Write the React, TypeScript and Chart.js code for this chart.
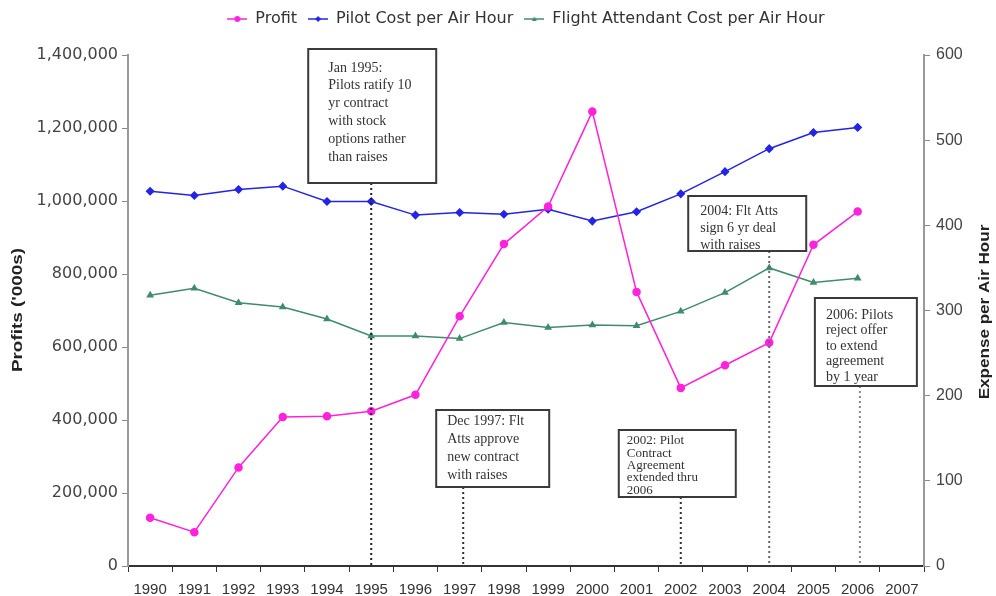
import React, { useEffect, useRef } from 'react';
import { Chart, registerables } from 'chart.js';

Chart.register(...registerables);

// Years on the category axis (2007 has no data yet)
const years = ['1990', '1991', '1992', '1993', '1994', '1995', '1996', '1997', '1998', '1999', '2000', '2001', '2002', '2003', '2004', '2005', '2006', '2007'];

// Profits in thousands of dollars (left axis)
const profit = [132000, 92500, 270000, 408000, 410000, 424000, 469000, 684000, 882000, 985000, 1245000, 751000, 488000, 550000, 612000, 880000, 971000, null];

// Cost per air hour (right axis)
const pilotCost = [440, 435, 442, 446, 428, 428, 412, 415, 413, 419, 405, 416, 437, 463, 490, 509, 515, null];
const attendantCost = [318, 326, 309, 304, 290, 270, 270, 267, 286, 280, 283, 282, 299, 321, 350, 333, 338, null];

// Axis ranges and steps
const profitTicks = [0, 1400000, 200000];
const costTicks = [0, 600, 100];

// Event call-outs: the year each one points at and its text
const noteYears = [1995, 1997.08, 2002, 2004, 2006.05];
const noteTexts = [
  ['Jan 1995:', 'Pilots ratify 10', 'yr contract', 'with stock', 'options rather', 'than raises'],
  ['Dec 1997: Flt', 'Atts approve', 'new contract', 'with raises'],
  ['2002: Pilot', 'Contract', 'Agreement', 'extended thru', '2006'],
  ['2004: Flt Atts', 'sign 6 yr deal', 'with raises'],
  ['2006: Pilots', 'reject offer', 'to extend', 'agreement', 'by 1 year'],
];

// Call-out box placement (pixels; dx is relative to the year's x position)
const noteLayout = [
  { dx: -63, top: 49, w: 128, h: 134, padX: 20, firstY: 68, lineH: 17.8, size: 14, dot: '#222' },
  { dx: -27, top: 410, w: 113, h: 77, padX: 11, firstY: 421, lineH: 18.2, size: 14, dot: '#333' },
  { dx: -62, top: 430, w: 117, h: 67, padX: 8, firstY: 441, lineH: 12.3, size: 13, dot: '#333' },
  { dx: -81, top: 196, w: 118, h: 55, padX: 12, firstY: 211, lineH: 17, size: 14, dot: '#666' },
  { dx: -45, top: 298, w: 102, h: 88, padX: 11, firstY: 315, lineH: 15.6, size: 14, dot: '#888' },
];

const seriesNames = ['Profit', 'Pilot Cost per Air Hour', 'Flight Attendant Cost per Air Hour'];
const seriesColors = ['#FF22DD', '#2424E6', '#3F8C6C'];
const seriesMarkers = ['circle', 'rectRot', 'triangle'];

const sans = "'DejaVu Sans', 'Liberation Sans', Arial, sans-serif";
const arial = "'Liberation Sans', Arial, sans-serif";

function makeSwatch(color: string, marker: string): HTMLCanvasElement {
  const c = document.createElement('canvas');
  c.width = 20;
  c.height = 8;
  const g = c.getContext('2d')!;
  g.strokeStyle = color;
  g.lineWidth = 1.5;
  g.beginPath();
  g.moveTo(0, 4);
  g.lineTo(20, 4);
  g.stroke();
  g.fillStyle = color;
  g.beginPath();
  if (marker === 'circle') {
    g.arc(10, 4, 3, 0, Math.PI * 2);
  } else if (marker === 'rectRot') {
    g.moveTo(10, 1); g.lineTo(13, 4); g.lineTo(10, 7); g.lineTo(7, 4); g.closePath();
  } else {
    g.moveTo(10, 1.5); g.lineTo(12.5, 6); g.lineTo(7.5, 6); g.closePath();
  }
  g.fill();
  return c;
}

function drawTitle(ctx: CanvasRenderingContext2D, text: string, x: number, y: number, stretch: number) {
  ctx.save();
  ctx.fillStyle = '#222';
  ctx.font = `bold 14px ${arial}`;
  ctx.textAlign = 'center';
  ctx.textBaseline = 'middle';
  ctx.translate(x, y);
  ctx.rotate(-Math.PI / 2);
  ctx.scale(stretch, 1);
  ctx.fillText(text, 0, 0);
  ctx.restore();
}

export default function App() {
  const ref = useRef<HTMLCanvasElement>(null);

  useEffect(() => {
    if (!ref.current) return;
    const swatches = seriesColors.map((c, i) => makeSwatch(c, seriesMarkers[i]));

    const legendSpacer = {
      id: 'legendSpacer',
      beforeInit(chart: any) {
        const lg = chart.legend;
        if (!lg) return;
        const orig = lg.fit;
        lg.fit = function () {
          orig.call(this);
          this.height += 18;
        };
      },
    };

    const extras = {
      id: 'extras',
      afterDatasetsDraw(chart: any) {
        const { ctx, chartArea, scales } = chart;
        const x = scales.x;
        drawTitle(ctx, "Profits ('000s)", 18, 310, 1.35);
        drawTitle(ctx, 'Expense per Air Hour', 985, 312, 1.22);

        noteYears.forEach((yr, i) => {
          const L = noteLayout[i];
          const px = x.getPixelForValue(yr - 1990);
          const left = px + L.dx;
          ctx.save();
          ctx.strokeStyle = L.dot;
          ctx.lineWidth = 2;
          ctx.setLineDash([2, 3]);
          ctx.beginPath();
          ctx.moveTo(px, L.top + L.h);
          ctx.lineTo(px, chartArea.bottom);
          ctx.stroke();
          ctx.setLineDash([]);
          ctx.fillStyle = '#fff';
          ctx.fillRect(left, L.top, L.w, L.h);
          ctx.beginPath();
          ctx.rect(left, L.top, L.w, L.h);
          ctx.clip();
          ctx.fillStyle = '#333';
          ctx.font = `${L.size}px 'Liberation Serif', 'Times New Roman', serif`;
          ctx.textAlign = 'left';
          ctx.textBaseline = 'middle';
          noteTexts[i].forEach((t, j) => {
            ctx.fillText(t, left + L.padX, L.firstY + j * L.lineH);
          });
          ctx.restore();
          ctx.save();
          ctx.strokeStyle = '#3a3a3a';
          ctx.lineWidth = 2;
          ctx.strokeRect(left, L.top, L.w, L.h);
          ctx.restore();
        });
      },
    };

    const sizeX = (s: any) => { s.height = 30; };
    const sizeLeft = (s: any) => { s.width = 128; };
    const sizeRight = (s: any) => { s.width = 72; };

    const chart = new Chart(ref.current, {
      type: 'line',
      data: {
        labels: years,
        datasets: [
          {
            label: seriesNames[0],
            data: profit,
            yAxisID: 'y',
            borderColor: seriesColors[0],
            backgroundColor: seriesColors[0],
            pointBackgroundColor: seriesColors[0],
            pointBorderColor: seriesColors[0],
            pointStyle: seriesMarkers[0],
            pointRadius: 3.5,
            borderWidth: 1.5,
            tension: 0,
          },
          {
            label: seriesNames[1],
            data: pilotCost,
            yAxisID: 'y1',
            borderColor: seriesColors[1],
            backgroundColor: seriesColors[1],
            pointBackgroundColor: seriesColors[1],
            pointBorderColor: seriesColors[1],
            pointStyle: seriesMarkers[1],
            pointRadius: 3.5,
            borderWidth: 1.5,
            tension: 0,
          },
          {
            label: seriesNames[2],
            data: attendantCost,
            yAxisID: 'y1',
            borderColor: seriesColors[2],
            backgroundColor: seriesColors[2],
            pointBackgroundColor: seriesColors[2],
            pointBorderColor: seriesColors[2],
            pointStyle: seriesMarkers[2],
            pointRadius: 3,
            borderWidth: 1.5,
            tension: 0,
          },
        ],
      },
      options: {
        animation: false,
        responsive: true,
        maintainAspectRatio: false,
        layout: { padding: 0 },
        plugins: {
          tooltip: { enabled: false },
          legend: {
            position: 'top',
            fullSize: false,
            labels: {
              usePointStyle: true,
              pointStyleWidth: 20,
              padding: 11,
              color: '#333',
              font: { family: sans, size: 16 },
              generateLabels: (c: any) => {
                const items = (Chart.defaults.plugins.legend.labels as any).generateLabels(c);
                items.forEach((it: any, i: number) => { it.pointStyle = swatches[i]; });
                return items;
              },
            },
          },
        },
        scales: {
          x: {
            type: 'category',
            offset: true,
            afterFit: sizeX,
            grid: { display: true, drawOnChartArea: false, drawTicks: true, tickLength: 6, color: '#333', offset: true },
            border: { color: '#333', width: 2 },
            ticks: {
              autoSkip: false,
              maxRotation: 0,
              padding: 9,
              color: '#333',
              font: { family: arial, size: 15 },
            },
          },
          y: {
            position: 'left',
            min: profitTicks[0],
            max: profitTicks[1],
            afterFit: sizeLeft,
            grid: { display: true, drawOnChartArea: false, tickLength: 6, color: '#888' },
            border: { color: '#999', width: 2 },
            ticks: {
              stepSize: profitTicks[2],
              padding: 4,
              color: '#444',
              font: { family: sans, size: 16 },
              callback: (v: any) => Number(v).toLocaleString('en-US'),
            },
          },
          y1: {
            position: 'right',
            min: costTicks[0],
            max: costTicks[1],
            afterFit: sizeRight,
            grid: { display: true, drawOnChartArea: false, tickLength: 6, color: '#888' },
            border: { color: '#999', width: 2 },
            ticks: {
              stepSize: costTicks[2],
              padding: 6,
              color: '#444',
              font: { family: arial, size: 16 },
            },
          },
        },
      },
      plugins: [legendSpacer, extras],
    } as any);

    return () => chart.destroy();
  }, []);

  return (
    <div style={{ position: 'fixed', left: 0, top: 0, width: 996, height: 596, background: '#fff' }}>
      <canvas ref={ref} />
    </div>
  );
}
